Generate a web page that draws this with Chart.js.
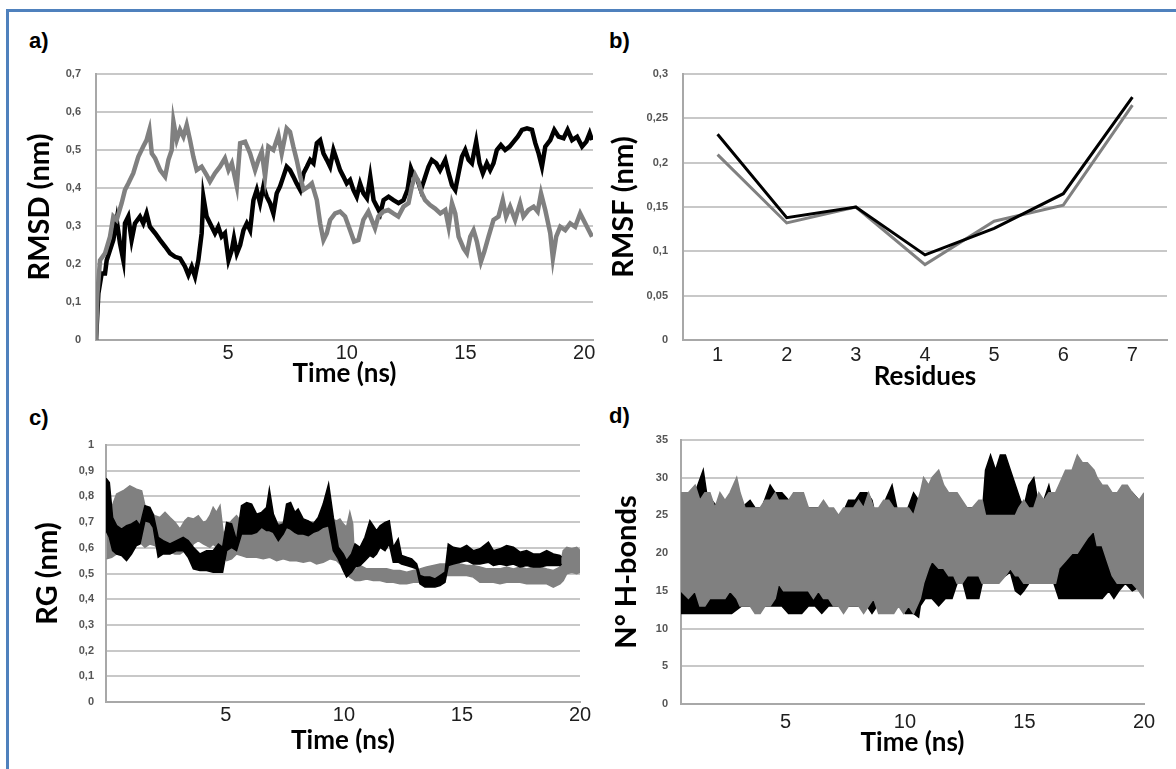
<!DOCTYPE html>
<html>
<head>
<meta charset="utf-8">
<script src="https://cdn.jsdelivr.net/npm/chart.js@4.4.0/dist/chart.umd.min.js"></script>
<style>
  body { margin: 0; width: 1176px; height: 769px; overflow: hidden; position: relative; background: #fff; }
  #frame { position: absolute; left: 6px; top: 9px; width: 1190px; height: 790px; border: 3px solid #4f81bd; }
  .box { position: absolute; }
  .lbl { position: absolute; font: bold 22px 'Liberation Sans', Arial, sans-serif; line-height: 1; color: #000; }
</style>
</head>
<body>
<div id="frame"></div>
<div class="lbl" style="left:29px;top:30px">a)</div>
<div class="lbl" style="left:609px;top:30px">b)</div>
<div class="lbl" style="left:29px;top:407px">c)</div>
<div class="lbl" style="left:609px;top:405px">d)</div>
<div class="box" style="left:0;top:60px"><canvas id="chartA" width="600" height="340"></canvas></div>
<div class="box" style="left:590px;top:60px"><canvas id="chartB" width="586" height="340"></canvas></div>
<div class="box" style="left:0;top:430px"><canvas id="chartC" width="600" height="339"></canvas></div>
<div class="box" style="left:590px;top:430px"><canvas id="chartD" width="586" height="339"></canvas></div>
<script>
// ---- data ----
// a) RMSD (nm) vs time (ns): [t, value]
const rmsdBlack = [[-0.56,0],[-0.46,0.123],[-0.32,0.175],[-0.18,0.175],[-0.11,0.21],[0.03,0.237],[0.17,0.263],[0.31,0.316],[0.45,0.254],[0.59,0.21],[0.66,0.307],[0.80,0.325],[0.94,0.263],[1.08,0.307],[1.29,0.325],[1.43,0.307],[1.57,0.333],[1.71,0.298],[1.93,0.281],[2.14,0.263],[2.35,0.246],[2.56,0.228],[2.77,0.219],[2.98,0.215],[3.19,0.193],[3.33,0.171],[3.47,0.193],[3.61,0.167],[3.75,0.21],[3.89,0.281],[3.96,0.377],[4.10,0.325],[4.24,0.307],[4.45,0.281],[4.59,0.298],[4.73,0.272],[4.87,0.281],[5.02,0.21],[5.16,0.237],[5.25,0.268],[5.37,0.228],[5.51,0.25],[5.65,0.289],[5.79,0.307],[5.93,0.289],[6.07,0.368],[6.21,0.395],[6.35,0.36],[6.49,0.404],[6.63,0.377],[6.77,0.36],[6.91,0.333],[7.05,0.386],[7.19,0.404],[7.33,0.43],[7.47,0.456],[7.61,0.447],[7.75,0.43],[7.89,0.412],[8.04,0.395],[8.18,0.439],[8.32,0.456],[8.46,0.474],[8.60,0.465],[8.74,0.518],[8.88,0.526],[9.02,0.491],[9.16,0.474],[9.30,0.456],[9.44,0.5],[9.58,0.474],[9.72,0.447],[9.86,0.43],[10.00,0.412],[10.14,0.421],[10.28,0.395],[10.42,0.377],[10.56,0.412],[10.70,0.386],[10.85,0.373],[10.99,0.43],[11.13,0.368],[11.27,0.351],[11.41,0.333],[11.55,0.368],[11.76,0.377],[11.97,0.368],[12.18,0.36],[12.39,0.368],[12.56,0.395],[12.70,0.452],[12.84,0.43],[12.98,0.421],[13.12,0.395],[13.26,0.421],[13.44,0.456],[13.58,0.474],[13.77,0.465],[13.93,0.447],[14.15,0.474],[14.29,0.439],[14.43,0.408],[14.57,0.395],[14.71,0.439],[14.85,0.482],[14.99,0.5],[15.13,0.474],[15.27,0.465],[15.45,0.522],[15.59,0.465],[15.73,0.439],[15.90,0.465],[16.04,0.447],[16.18,0.465],[16.32,0.5],[16.49,0.513],[16.67,0.5],[16.86,0.509],[17.03,0.522],[17.20,0.535],[17.38,0.553],[17.59,0.557],[17.80,0.553],[17.94,0.518],[18.08,0.491],[18.22,0.456],[18.36,0.509],[18.57,0.526],[18.74,0.553],[18.92,0.535],[19.13,0.531],[19.30,0.553],[19.49,0.526],[19.70,0.535],[19.91,0.509],[20.09,0.522],[20.23,0.544],[20.33,0.526]];
const rmsdGray = [[-0.56,0],[-0.50,0.123],[-0.39,0.21],[-0.18,0.228],[0.03,0.272],[0.17,0.325],[0.31,0.316],[0.52,0.36],[0.66,0.395],[0.80,0.412],[1.01,0.439],[1.22,0.482],[1.43,0.509],[1.57,0.526],[1.69,0.553],[1.79,0.491],[1.93,0.478],[2.14,0.447],[2.35,0.43],[2.49,0.474],[2.63,0.5],[2.70,0.575],[2.84,0.526],[2.98,0.553],[3.12,0.535],[3.26,0.566],[3.40,0.526],[3.54,0.482],[3.68,0.447],[3.89,0.456],[4.10,0.434],[4.24,0.417],[4.45,0.439],[4.66,0.456],[4.87,0.478],[5.02,0.447],[5.16,0.465],[5.37,0.404],[5.51,0.518],[5.72,0.522],[5.93,0.491],[6.14,0.447],[6.28,0.474],[6.42,0.496],[6.56,0.43],[6.70,0.509],[6.91,0.5],[7.12,0.539],[7.26,0.491],[7.47,0.557],[7.61,0.548],[7.75,0.509],[7.89,0.474],[8.04,0.43],[8.18,0.395],[8.39,0.404],[8.53,0.412],[8.74,0.368],[8.88,0.307],[9.02,0.263],[9.16,0.281],[9.30,0.316],[9.51,0.333],[9.72,0.338],[9.93,0.325],[10.14,0.289],[10.31,0.259],[10.49,0.263],[10.70,0.316],[10.91,0.338],[11.05,0.316],[11.19,0.294],[11.33,0.325],[11.54,0.338],[11.75,0.342],[11.96,0.333],[12.17,0.325],[12.39,0.351],[12.60,0.36],[12.74,0.404],[12.88,0.434],[13.02,0.417],[13.16,0.386],[13.30,0.368],[13.51,0.355],[13.72,0.346],[13.94,0.333],[14.15,0.342],[14.29,0.298],[14.43,0.36],[14.57,0.333],[14.71,0.272],[14.92,0.241],[15.06,0.228],[15.20,0.272],[15.34,0.289],[15.48,0.259],[15.65,0.206],[15.79,0.232],[15.97,0.272],[16.18,0.316],[16.39,0.325],[16.57,0.368],[16.71,0.325],[16.88,0.351],[17.09,0.316],[17.30,0.36],[17.44,0.325],[17.65,0.342],[17.87,0.351],[18.04,0.338],[18.18,0.386],[18.36,0.342],[18.57,0.281],[18.68,0.215],[18.82,0.272],[18.99,0.298],[19.20,0.289],[19.41,0.307],[19.62,0.298],[19.83,0.333],[20.04,0.307],[20.19,0.289],[20.33,0.272]];

// b) RMSF (nm) per residue
const residues = ['1', '2', '3', '4', '5', '6', '7'];
const rmsfBlack = [0.232, 0.138, 0.150, 0.096, 0.126, 0.165, 0.274];
const rmsfGray = [0.209, 0.132, 0.150, 0.085, 0.134, 0.152, 0.265];

// c) RG (nm): noisy traces kept as [t, upper, lower] envelopes
const rgBlack = [[-0.08,0.871,0.667],[0.06,0.854,0.641],[0.20,0.718,0.589],[0.37,0.686,0.576],[0.58,0.673,0.570],[0.79,0.686,0.550],[1.00,0.693,0.576],[1.21,0.705,0.609],[1.36,0.686,0.615],[1.57,0.764,0.705],[1.78,0.757,0.699],[1.92,0.731,0.680],[2.13,0.641,0.563],[2.34,0.628,0.576],[2.63,0.615,0.576],[2.91,0.628,0.589],[3.19,0.641,0.589],[3.40,0.628,0.563],[3.62,0.602,0.518],[3.90,0.576,0.512],[4.18,0.589,0.512],[4.46,0.589,0.505],[4.68,0.615,0.505],[4.86,0.602,0.505],[5.03,0.699,0.589],[5.24,0.693,0.602],[5.45,0.628,0.589],[5.66,0.764,0.654],[5.88,0.776,0.654],[6.09,0.770,0.654],[6.30,0.731,0.660],[6.51,0.738,0.680],[6.72,0.757,0.667],[6.84,0.828,0.667],[7.01,0.731,0.660],[7.22,0.686,0.628],[7.43,0.693,0.654],[7.57,0.770,0.680],[7.74,0.776,0.673],[7.92,0.738,0.660],[8.06,0.751,0.654],[8.28,0.712,0.654],[8.49,0.705,0.647],[8.70,0.693,0.660],[8.91,0.718,0.667],[9.12,0.770,0.680],[9.35,0.848,0.686],[9.55,0.718,0.589],[9.76,0.602,0.557],[9.97,0.576,0.512],[10.11,0.550,0.486],[10.32,0.576,0.505],[10.47,0.615,0.525],[10.68,0.602,0.531],[10.89,0.641,0.550],[11.10,0.705,0.570],[11.24,0.686,0.563],[11.38,0.667,0.576],[11.53,0.686,0.602],[11.74,0.699,0.589],[11.92,0.705,0.615],[12.09,0.602,0.544],[12.30,0.635,0.544],[12.44,0.570,0.537],[12.66,0.563,0.531],[12.87,0.557,0.525],[13.08,0.537,0.518],[13.22,0.492,0.460],[13.43,0.486,0.447],[13.64,0.486,0.447],[13.86,0.479,0.447],[14.07,0.492,0.453],[14.28,0.505,0.466],[14.42,0.615,0.531],[14.63,0.602,0.537],[14.92,0.596,0.544],[15.20,0.609,0.550],[15.48,0.589,0.537],[15.76,0.596,0.537],[16.12,0.622,0.544],[16.33,0.589,0.531],[16.61,0.596,0.537],[16.89,0.609,0.531],[17.18,0.602,0.537],[17.46,0.583,0.525],[17.74,0.589,0.531],[18.02,0.576,0.525],[18.31,0.576,0.525],[18.59,0.589,0.531],[18.87,0.576,0.531],[19.15,0.570,0.531],[19.22,0.563,0.537]];
const rgGray = [[-0.06,0.693,0.557],[0.16,0.757,0.563],[0.37,0.809,0.576],[0.65,0.822,0.602],[0.93,0.841,0.615],[1.21,0.828,0.628],[1.43,0.822,0.615],[1.57,0.764,0.602],[1.78,0.738,0.615],[1.99,0.725,0.609],[2.20,0.718,0.589],[2.42,0.738,0.602],[2.63,0.718,0.583],[2.84,0.699,0.576],[3.05,0.673,0.576],[3.26,0.705,0.589],[3.40,0.718,0.576],[3.62,0.712,0.615],[3.83,0.725,0.628],[4.04,0.699,0.615],[4.18,0.705,0.609],[4.32,0.725,0.602],[4.46,0.757,0.615],[4.60,0.738,0.602],[4.75,0.764,0.589],[4.89,0.654,0.563],[5.03,0.673,0.550],[5.24,0.705,0.557],[5.45,0.725,0.576],[5.66,0.699,0.570],[5.88,0.718,0.563],[6.09,0.699,0.563],[6.30,0.699,0.563],[6.58,0.705,0.557],[6.86,0.712,0.563],[7.15,0.693,0.550],[7.43,0.699,0.557],[7.71,0.693,0.550],[7.99,0.699,0.550],[8.28,0.693,0.544],[8.56,0.699,0.550],[8.84,0.699,0.537],[9.12,0.693,0.544],[9.41,0.712,0.557],[9.69,0.705,0.550],[9.83,0.712,0.537],[9.97,0.693,0.550],[10.11,0.680,0.499],[10.25,0.738,0.486],[10.37,0.693,0.479],[10.47,0.512,0.473],[10.68,0.531,0.473],[10.96,0.518,0.479],[11.24,0.518,0.473],[11.53,0.518,0.473],[11.81,0.518,0.466],[12.09,0.512,0.466],[12.37,0.512,0.460],[12.66,0.505,0.460],[12.94,0.512,0.466],[13.22,0.518,0.466],[13.50,0.525,0.473],[13.79,0.531,0.473],[14.07,0.537,0.486],[14.35,0.537,0.492],[14.63,0.544,0.492],[14.92,0.537,0.492],[15.20,0.531,0.492],[15.48,0.531,0.486],[15.76,0.525,0.466],[16.05,0.518,0.466],[16.33,0.518,0.466],[16.61,0.518,0.460],[16.89,0.525,0.466],[17.18,0.518,0.466],[17.46,0.525,0.466],[17.74,0.518,0.460],[18.02,0.525,0.460],[18.31,0.525,0.460],[18.59,0.518,0.460],[18.87,0.512,0.447],[19.15,0.525,0.460],[19.29,0.589,0.473],[19.44,0.602,0.499],[19.65,0.596,0.505],[19.86,0.602,0.499],[20.00,0.589,0.505]];

// d) number of H-bonds: [t, upper, lower]
const hbGray = [[0.63,28,15],[0.94,28,14],[1.22,29,15],[1.42,27,13],[1.63,28,13],[1.84,28,14],[2.05,26,14],[2.26,28,14],[2.47,27,14],[2.68,28,15],[2.96,30,14],[3.10,28,13],[3.31,26,13],[3.52,26,13],[3.73,26,12],[3.94,26,12],[4.15,27,13],[4.36,27,13],[4.57,28,14],[4.71,27,16],[4.92,27,15],[5.13,27,15],[5.34,28,15],[5.54,28,15],[5.75,28,15],[5.96,26,15],[6.17,26,14],[6.38,26,15],[6.59,27,14],[6.80,26,14],[7.01,26,13],[7.22,25,13],[7.43,26,12],[7.64,26,13],[7.85,26,13],[8.06,27,13],[8.27,26,12],[8.48,28,13],[8.69,26,14],[8.90,26,12],[9.11,27,12],[9.32,27,12],[9.53,26,12],[9.73,26,13],[9.94,26,12],[10.15,26,13],[10.36,25,12],[10.64,28,14],[10.78,30,16],[10.99,29,18],[11.13,30,19],[11.41,31,18],[11.62,29,18],[11.83,28,17],[12.04,28,17],[12.18,28,16],[12.39,27,16],[12.60,26,17],[12.81,26,17],[13.09,27,17],[13.23,27,16],[13.37,25,16],[13.65,25,16],[13.93,25,16],[14.20,25,17],[14.41,25,18],[14.62,25,17],[14.76,26,17],[14.97,27,16],[15.18,26,16],[15.39,26,16],[15.60,28,16],[15.81,27,16],[16.02,28,16],[16.30,28,16],[16.44,29,18],[16.72,31,19],[16.99,31,20],[17.21,33,20],[17.42,32,21],[17.63,32,22],[17.91,31,23],[18.04,30,21],[18.25,29,21],[18.46,29,19],[18.67,28,17],[18.88,28,16],[19.09,29,16],[19.30,29,16],[19.51,28,16],[19.79,27,15],[20.00,28,14]];
const hbBlack = [[0.63,26,12],[0.94,27,12],[1.22,28,12],[1.56,31,12],[1.70,28,12],[1.91,27,12],[2.19,26,12],[2.47,27,12],[2.75,26,12],[3.17,26,13],[3.52,27,13],[3.73,26,13],[4.01,26,13],[4.36,29,13],[4.57,28,13],[4.85,28,13],[5.13,27,12],[5.41,26,12],[5.68,27,12],[5.96,26,13],[6.24,26,13],[6.52,26,12],[6.80,25,13],[7.08,24,13],[7.36,25,13],[7.64,27,13],[7.92,27,13],[8.13,28,13],[8.41,28,13],[8.62,27,12],[8.83,24,13],[9.18,27,13],[9.46,29,13],[9.66,26,13],[9.87,25,13],[10.01,25,12],[10.36,28,12],[10.57,27,11.5],[10.64,26,13],[10.85,24,14],[11.13,24,14],[11.41,24,13],[11.69,24,14],[11.97,24,14],[12.18,24,16],[12.39,24,16.5],[12.60,26,14],[12.81,26,14],[13.09,25,14],[13.23,25,16],[13.37,31,17],[13.58,33,17],[13.79,31,17],[13.99,33,17],[14.20,33,17],[14.41,31,17.5],[14.62,29,15],[14.83,27,14.5],[14.97,26,15],[15.18,29,16],[15.39,30,16],[15.60,26,16],[15.81,27,16],[16.02,29,16],[16.23,26,16],[16.44,25,14],[16.72,25,14],[16.99,25,14],[17.28,25,14],[17.63,25,14],[17.91,25,14],[18.25,25,14],[18.53,25,15],[18.74,25,14],[18.95,25,15],[19.22,25,16],[19.51,28,15],[19.79,27,15.5],[20.00,27,15]];

const timeTicks = [5, 10, 15, 20];

// ---- styling ----
const BLACK = '#000000';
const GRAY = '#808080';
const GRID = '#c8c8c8';
const AXIS = '#a8a8a8';
const NARROW = "'Liberation Sans Narrow', 'Liberation Sans', Arial, sans-serif";
const NARROW_TITLE = "'Liberation Sans Narrow', Lato, sans-serif";
const TITLE = "Lato, 'Open Sans', sans-serif";
const SANS = "'Liberation Sans', Arial, sans-serif";

function comma(v) {
  return String(Number(v.toFixed(2))).replace('.', ',');
}

function line(points, color, width) {
  return {
    data: points.map(p => ({x: p[0], y: p[1]})),
    borderColor: color, borderWidth: width,
    pointRadius: 0, fill: false, tension: 0
  };
}

// upper edge + lower edge filled between them
function band(rows, color) {
  return [
    {data: rows.map(r => ({x: r[0], y: r[1]})), borderColor: color, backgroundColor: color,
     borderWidth: 1.5, pointRadius: 0, fill: false},
    {data: rows.map(r => ({x: r[0], y: r[2]})), borderColor: color, backgroundColor: color,
     borderWidth: 1.5, pointRadius: 0, fill: '-1'}
  ];
}

function makeChart(id, o) {
  const xScale = {
    type: o.xType || 'linear',
    offset: o.xType === 'category',
    grid: {display: false, drawTicks: false},
    border: {display: true, color: AXIS, width: 2},
    ticks: {padding: o.xPad, color: '#1e1e1e', maxRotation: 0, autoSkip: false,
            font: {family: NARROW, size: 20, lineHeight: 1}},
    title: {display: true, text: o.xTitle, color: '#000', padding: {top: 0, bottom: o.xTitlePad},
            font: {family: NARROW_TITLE, size: 26, weight: 'bold', lineHeight: 1}},
    afterFit: s => { s.height = o.xHeight; s.paddingLeft = 0; s.paddingRight = 0; }
  };
  if (o.xType !== 'category') {
    xScale.min = o.xMin;
    xScale.max = o.xMax;
    xScale.afterBuildTicks = s => { s.ticks = timeTicks.map(v => ({value: v})); };
  }
  return new Chart(document.getElementById(id), {
    type: 'line',
    data: {labels: o.labels, datasets: o.datasets},
    options: {
      responsive: false,
      animation: false,
      events: [],
      layout: {padding: {left: 0, right: o.padRight, top: o.padTop, bottom: 0}},
      plugins: {legend: {display: false}, tooltip: {enabled: false}},
      scales: {
        x: xScale,
        y: {
          min: o.yMin, max: o.yMax,
          grid: {color: GRID, lineWidth: 2, drawTicks: false},
          border: {display: true, color: AXIS, width: 2},
          ticks: {stepSize: o.yStep, padding: o.yPad, color: '#555', callback: v => comma(v),
                  font: {family: SANS, size: 11, weight: 'bold'}},
          title: {display: true, text: o.yTitle, color: '#000', padding: {top: o.yTitlePad, bottom: 0},
                  font: {family: TITLE, size: 29, weight: 'bold', lineHeight: 1}},
          afterFit: s => { s.width = o.yWidth; s.paddingTop = 0; s.paddingBottom = 0; }
        }
      }
    }
  });
}

makeChart('chartA', {
  datasets: [line(rmsdGray, GRAY, 4.5), line(rmsdBlack, BLACK, 4.5)],
  xMin: -0.56, xMax: 20.37, xTitle: 'Time (ns)', xPad: 3, xTitlePad: 13, xHeight: 60,
  yMin: 0, yMax: 0.7, yStep: 0.1, yTitle: 'RMSD (nm)', yPad: 15, yTitlePad: 25.5, yWidth: 96,
  padTop: 14, padRight: 7
});

makeChart('chartB', {
  xType: 'category', labels: residues,
  datasets: [line(rmsfBlack.map((v, i) => [residues[i], v]), BLACK, 3),
             line(rmsfGray.map((v, i) => [residues[i], v]), GRAY, 3)],
  xTitle: 'Residues', xPad: 5, xTitlePad: 10, xHeight: 60,
  yMin: 0, yMax: 0.3, yStep: 0.05, yTitle: 'RMSF (nm)', yPad: 15, yTitlePad: 19.5, yWidth: 93,
  padTop: 14, padRight: 9
});

makeChart('chartC', {
  datasets: [...band(rgBlack, BLACK), ...band(rgGray, GRAY)],
  xMin: -0.08, xMax: 20, xTitle: 'Time (ns)', xPad: 3, xTitlePad: 15, xHeight: 67,
  yMin: 0, yMax: 1, yStep: 0.1, yTitle: 'RG (nm)', yPad: 12, yTitlePad: 33.5, yWidth: 106,
  padTop: 15, padRight: 20
});

makeChart('chartD', {
  datasets: [...band(hbGray, GRAY), ...band(hbBlack, BLACK)],
  xMin: 0.63, xMax: 20, xTitle: 'Time (ns)', xPad: 8, xTitlePad: 13, xHeight: 65,
  yMin: 0, yMax: 35, yStep: 5, yTitle: 'N° H-bonds', yPad: 13, yTitlePad: 22.5, yWidth: 91,
  padTop: 10, padRight: 32
});
</script>
</body>
</html>
